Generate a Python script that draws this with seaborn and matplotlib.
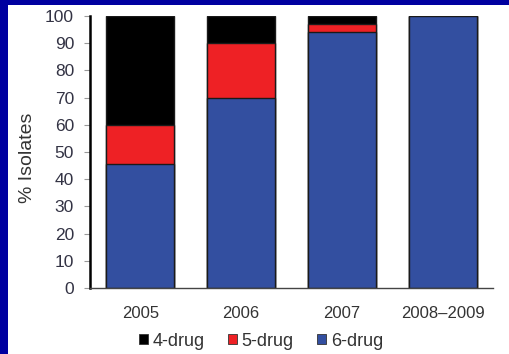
import matplotlib
matplotlib.use("Agg")
import matplotlib.pyplot as plt
import matplotlib.patches as mpatches
import numpy as np
import pandas as pd
import seaborn as sns

# Data: share of isolates by regimen size (%)
periods = ["2005", "2006", "2007", "2008\u20132009"]
six_drug = [45.5, 70.0, 94.3, 100.0]
five_drug = [14.5, 20.0, 2.85, 0.0]
four_drug = [40.0, 10.0, 2.85, 0.0]

series_names = ["4-drug", "5-drug", "6-drug"]
series_colors = {"4-drug": "#000000", "5-drug": "#EE2125", "6-drug": "#334FA0"}

sns.set_theme(style="white")
plt.rcParams["font.family"] = ["Liberation Sans", "DejaVu Sans"]

fig = plt.figure(figsize=(5.09, 3.54), dpi=100)
fig.patch.set_facecolor("#0000A0")
# white panel inside the blue frame
fig.add_artist(mpatches.Rectangle((8 / 509, 0), 1 - 8 / 509, 1 - 5 / 354,
                                  transform=fig.transFigure, facecolor="white",
                                  edgecolor="none", zorder=0))

ax = fig.add_axes([90 / 509, 1 - 288 / 354, (493 - 90) / 509, (288 - 16) / 354])
ax.set_facecolor("white")

# stacked bars: draw cumulative totals from the top segment down
cum_six = np.array(six_drug)
cum_five = cum_six + np.array(five_drug)
cum_four = cum_five + np.array(four_drug)
layers = [("4-drug", cum_four), ("5-drug", cum_five), ("6-drug", cum_six)]
for name, heights in layers:
    df = pd.DataFrame({"period": periods, "value": heights})
    sns.barplot(data=df, x="period", y="value", color=series_colors[name],
                saturation=1, width=0.675, edgecolor="#1a1a1a", linewidth=1.0,
                ax=ax, zorder=2)

ax.set_xlim(-0.5, 3.5)
ax.set_ylim(0, 100)
ax.set_yticks(range(0, 101, 10))
ax.set_xlabel("")
ax.set_ylabel("% Isolates", fontsize=14, color="#333333")
ax.yaxis.set_label_coords(-0.134, 0.478)

for side in ["top", "right"]:
    ax.spines[side].set_visible(False)
ax.spines["left"].set_color("#000000")
ax.spines["left"].set_linewidth(1.8)
ax.spines["bottom"].set_color("#444444")
ax.spines["bottom"].set_linewidth(1.0)

ax.tick_params(axis="y", which="major", left=True, length=4, width=0.8,
               color="#999999", labelsize=12.5, labelcolor="#333344", pad=7.5)
ax.tick_params(axis="x", bottom=False, labelsize=12, labelcolor="#333333", pad=7)

handles = [mpatches.Patch(facecolor=series_colors[n], edgecolor="#333333",
                          linewidth=0.6, label=n) for n in series_names]
leg = fig.legend(handles=handles, loc="center", bbox_to_anchor=(261 / 509, 1 - 341 / 354),
                 ncol=3, frameon=False, fontsize=13, handlelength=0.5,
                 handleheight=0.5, handletextpad=0.25, columnspacing=1.3)
for t in leg.get_texts():
    t.set_color("#333333")

fig.savefig("out.png", dpi=100, facecolor=fig.get_facecolor())
